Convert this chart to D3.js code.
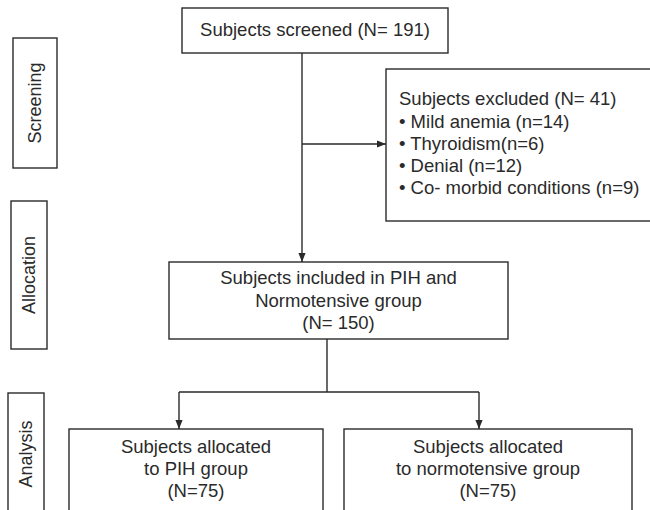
<!DOCTYPE html>
<html>
<head>
<meta charset="utf-8">
<script src="https://cdn.jsdelivr.net/npm/d3@7"></script>
<style>
  html, body { margin: 0; padding: 0; background: #fff; }
  svg { display: block; }
</style>
</head>
<body>
<div id="chart-container"></div>
<script>
const width = 650;
const height = 510;

// Data
const stageLabels = ['Screening', 'Allocation', 'Analysis'];
const screenedLines = ['Subjects screened (N= 191)'];
const excludedLines = [
  'Subjects excluded (N= 41)',
  '\u2022 Mild anemia (n=14)',
  '\u2022 Thyroidism(n=6)',
  '\u2022 Denial (n=12)',
  '\u2022 Co- morbid conditions (n=9)'
];
const includedLines = ['Subjects included in PIH and', 'Normotensive group', '(N= 150)'];
const pihLines = ['Subjects allocated', 'to PIH group', '(N=75)'];
const normoLines = ['Subjects allocated', 'to normotensive group', '(N=75)'];

// Layout (pixels)
const stageBoxes = [
  { x: 13, y: 38, w: 44, h: 130 },
  { x: 11, y: 201, w: 36, h: 148 },
  { x: 8, y: 393, w: 36, h: 122 }
];

const nodes = [
  { id: 'screened', lines: screenedLines, x: 182, y: 8, w: 266, h: 45, align: 'middle', y0: 30, step: 22 },
  { id: 'excluded', lines: excludedLines, x: 386, y: 69, w: 270, h: 152, align: 'start', tx: 399, y0: 99, step: 22.2 },
  { id: 'included', lines: includedLines, x: 169, y: 262, w: 339, h: 77, align: 'middle', y0: 278, step: 22.5 },
  { id: 'pih', lines: pihLines, x: 69, y: 429, w: 254, h: 90, align: 'middle', y0: 447, step: 22 },
  { id: 'normo', lines: normoLines, x: 344, y: 429, w: 288, h: 90, align: 'middle', y0: 447, step: 22 }
];

const links = [
  { pts: [[302, 53], [302, 262]], arrow: true },
  { pts: [[302, 144], [386, 144]], arrow: true },
  { pts: [[327, 339], [327, 392]], arrow: false },
  { pts: [[179, 392], [479, 392]], arrow: false },
  { pts: [[179, 392], [179, 429]], arrow: true },
  { pts: [[479, 392], [479, 429]], arrow: true }
];

const ink = '#2a2a2a';
const fontFamily = '"Liberation Sans", Arial, Helvetica, sans-serif';

const svg = d3
  .select('#chart-container')
  .append('svg')
  .attr('width', width)
  .attr('height', height);

svg
  .append('defs')
  .append('marker')
  .attr('id', 'arrow')
  .attr('viewBox', '0 0 10 10')
  .attr('refX', 10)
  .attr('refY', 5)
  .attr('markerWidth', 9)
  .attr('markerHeight', 9)
  .attr('markerUnits', 'userSpaceOnUse')
  .attr('orient', 'auto')
  .append('path')
  .attr('d', 'M0,1 L10,5 L0,9 Z')
  .attr('fill', ink);

// Stage side boxes
const stage = svg
  .selectAll('g.stage')
  .data(stageLabels)
  .enter()
  .append('g')
  .attr('class', 'stage');

stage
  .append('rect')
  .attr('x', (d, i) => stageBoxes[i].x)
  .attr('y', (d, i) => stageBoxes[i].y)
  .attr('width', (d, i) => stageBoxes[i].w)
  .attr('height', (d, i) => stageBoxes[i].h)
  .attr('fill', 'none')
  .attr('stroke', ink)
  .attr('stroke-width', 1.4);

stage
  .append('text')
  .attr('transform', (d, i) => {
    const b = stageBoxes[i];
    return `translate(${b.x + b.w / 2},${b.y + b.h / 2}) rotate(-90)`;
  })
  .attr('text-anchor', 'middle')
  .attr('dy', '0.35em')
  .attr('font-family', fontFamily)
  .attr('font-size', 18)
  .attr('fill', ink)
  .text((d) => d);

// Connectors
const line = d3.line();
svg
  .selectAll('path.link')
  .data(links)
  .enter()
  .append('path')
  .attr('class', 'link')
  .attr('d', (d) => line(d.pts))
  .attr('fill', 'none')
  .attr('stroke', ink)
  .attr('stroke-width', 1.4)
  .attr('marker-end', (d) => (d.arrow ? 'url(#arrow)' : null));

// Flow boxes
const node = svg
  .selectAll('g.node')
  .data(nodes)
  .enter()
  .append('g')
  .attr('class', 'node');

node
  .append('rect')
  .attr('x', (d) => d.x)
  .attr('y', (d) => d.y)
  .attr('width', (d) => d.w)
  .attr('height', (d) => d.h)
  .attr('fill', '#fff')
  .attr('stroke', ink)
  .attr('stroke-width', 1.4);

node
  .selectAll('text')
  .data((d) => d.lines.map((t, i) => ({ t, i, n: d })))
  .enter()
  .append('text')
  .attr('x', (d) => (d.n.align === 'start' ? d.n.tx : d.n.x + d.n.w / 2))
  .attr('y', (d) => d.n.y0 + d.i * d.n.step)
  .attr('dy', '0.35em')
  .attr('text-anchor', (d) => d.n.align)
  .attr('font-family', fontFamily)
  .attr('font-size', 18.5)
  .attr('fill', ink)
  .text((d) => d.t);
</script>
</body>
</html>
